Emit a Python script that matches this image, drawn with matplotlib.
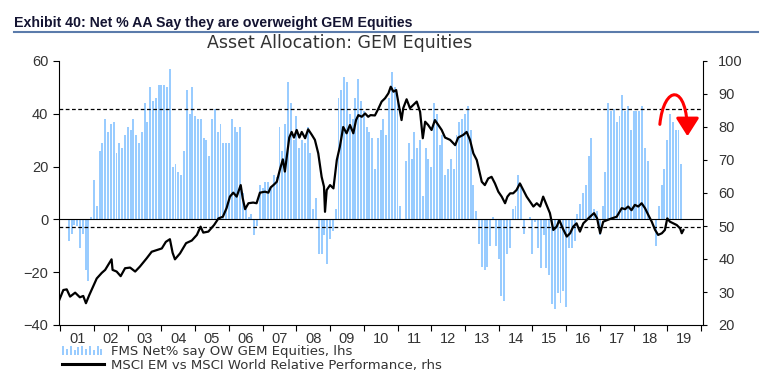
import matplotlib.pyplot as plt
import numpy as np
from matplotlib.legend_handler import HandlerBase
from matplotlib.patches import Rectangle, FancyArrowPatch
from matplotlib.path import Path
from matplotlib.lines import Line2D

plt.rcParams['font.family'] = ['Liberation Sans', 'DejaVu Sans']

nan = np.nan
# FMS net % of asset allocators overweight GEM equities (lhs), monthly from Jan 2001
fms_net = [nan, nan, nan, -8, -5.5, -2, -2.5, -11, -5.5, -19, -23.5, 1,
           15, 5, 26, 29, 38, 33, 36, 37, 25, 29, 27, 32,
           35, 34, 38, 32, 29, 33, 44, 37, 50, 45, 46, 51,
           51, 51, 50, 57, 20, 21, 18, 17, 26, 49, 40, 50,
           39, 38, 38, 31, 30, 24, 38, 42, 33, 36, 29, 29,
           29, 38, 35, 33, 35, 10, 4, 1, 2, -6, -2.5, 13,
           12, 14, 14, 12, 17, 16, 35, 26, 36, 52, 44, 30,
           39, 27, 30, 29, 35, 25, 4, 8, -13, -13, -6, -17,
           -7.5, -4.5, 4, 46, 49, 54, 52, 40, 38, 46, 53, 45,
           41, 35, 33, 31, 19, 31, 34, 38, 32, 46, 56, 50,
           46, 5, nan, 22, 29, 23, 33, 27, 30, 9, 27, 23,
           20, 44, 40, 28, 32, 17, 19, 23, 19, 32, 37, 38,
           40, 43, 34, 13, 3, -9.5, -18, -19, -18, -10, 1, -10,
           -15, -29, -31, -13, -11, 4, 5, 17, 13.5, -5.5, nan, 1,
           -13, -1, -11, -18.5, -6, -18.5, -21, -32, -34, -28, -31.5, -27,
           -33, -11, -11, -8, 2, 6, 10, 13, 24, 31, 4, 3,
           -6, 5, 18, 44, 41, 42, 37, 39, 47, 41, 43, 34,
           41, 41, 41, 43, 27, 22, nan, nan, -10, 5, 13, 19,
           30, 40, 37, 34, 34, 21]
start_year = 2001

# MSCI EM vs MSCI World relative performance (rhs)
rel_years = [2000.97, 2001.09, 2001.19, 2001.29, 2001.44, 2001.58, 2001.68, 2001.76, 2001.86, 2001.96,
             2002.08, 2002.23, 2002.33, 2002.52, 2002.55, 2002.67, 2002.79, 2002.92,
             2003.07, 2003.22, 2003.36, 2003.56, 2003.71, 2003.86,
             2004.01, 2004.13, 2004.25, 2004.33, 2004.40, 2004.55, 2004.73, 2004.90,
             2005.05, 2005.16, 2005.24, 2005.39, 2005.56, 2005.69, 2005.82, 2005.93,
             2006.03, 2006.13, 2006.23, 2006.35, 2006.41, 2006.48, 2006.58, 2006.72, 2006.82, 2006.92,
             2007.07, 2007.17, 2007.24, 2007.32, 2007.42, 2007.52, 2007.60, 2007.66, 2007.73, 2007.79, 2007.86, 2007.93,
             2008.01, 2008.09, 2008.16, 2008.26, 2008.35, 2008.46, 2008.55, 2008.65, 2008.75, 2008.82, 2008.85, 2008.90,
             2009.00, 2009.10, 2009.20, 2009.29, 2009.39, 2009.49, 2009.59, 2009.69, 2009.77, 2009.84, 2009.94,
             2010.04, 2010.13, 2010.20, 2010.33, 2010.43, 2010.53, 2010.63, 2010.73, 2010.80, 2010.88, 2010.96,
             2011.02, 2011.12, 2011.17, 2011.27, 2011.37, 2011.47, 2011.57, 2011.67, 2011.75, 2011.82, 2011.91,
             2012.01, 2012.11, 2012.21, 2012.31, 2012.41, 2012.56, 2012.71, 2012.80, 2012.95,
             2013.05, 2013.15, 2013.25, 2013.35, 2013.50, 2013.59, 2013.69, 2013.79, 2013.89, 2013.99,
             2014.09, 2014.19, 2014.26, 2014.34, 2014.43, 2014.53, 2014.63, 2014.73, 2014.83, 2014.93,
             2015.03, 2015.13, 2015.23, 2015.32, 2015.42, 2015.52, 2015.62, 2015.72, 2015.80, 2015.90,
             2016.02, 2016.12, 2016.21, 2016.31, 2016.41, 2016.51, 2016.61, 2016.71, 2016.83, 2016.92,
             2017.01, 2017.10, 2017.22, 2017.35, 2017.50, 2017.65, 2017.75, 2017.84, 2017.94,
             2018.04, 2018.14, 2018.24, 2018.34, 2018.44, 2018.54, 2018.64, 2018.73, 2018.84, 2018.93,
             2019.00, 2019.08, 2019.18, 2019.28, 2019.38, 2019.43, 2019.48]
rel_values = [27.6, 30.6, 30.8, 28.6, 29.8, 28.4, 28.8, 26.6, 29.1, 31.4,
              34.1, 35.8, 36.7, 39.9, 36.7, 36.2, 34.8, 37.2,
              37.4, 36.2, 37.7, 40.2, 42.2, 42.7,
              43.2, 45.2, 46.0, 41.9, 39.9, 41.7, 44.8, 45.6,
              47.3, 49.8, 48.0, 48.3, 50.3, 52.3, 52.8, 55.4,
              58.9, 60.1, 58.9, 62.4, 58.4, 55.1, 56.9, 57.1, 56.9, 60.1,
              60.4, 60.1, 61.7, 62.4, 63.4, 67.4, 70.2, 66.5, 72.0, 76.8, 78.5, 76.8,
              79.1, 76.8, 78.5, 76.6, 79.3, 77.6, 76.1, 72.0, 64.9, 61.9, 54.3, 60.9,
              62.4, 61.4, 70.0, 74.0, 80.0, 78.1, 80.6, 78.1, 82.1, 83.6, 83.1,
              84.1, 83.1, 83.6, 83.5, 85.5, 87.7, 88.7, 90.2, 92.2, 90.7, 91.2,
              87.7, 82.1, 85.7, 88.4, 85.7, 86.7, 87.7, 84.6, 76.6, 81.6, 80.6,
              79.1, 82.1, 80.6, 79.1, 76.8, 76.1, 74.5, 76.8, 77.6,
              78.5, 76.1, 72.0, 70.0, 63.4, 62.4, 64.4, 64.9, 62.9, 60.4,
              58.9, 56.9, 58.9, 59.9, 59.9, 60.9, 62.9, 60.9, 58.9, 57.4,
              55.9, 56.9, 55.9, 58.9, 56.4, 53.9, 48.8, 49.8, 51.8, 49.3,
              46.8, 47.8, 49.8, 50.8, 48.3, 50.8, 51.8, 52.8, 53.9, 52.3,
              47.8, 51.3, 51.8, 52.3, 52.8, 55.4, 55.1, 55.9, 54.8,
              56.4, 55.9, 56.9, 55.4, 53.3, 51.3, 48.8, 47.3, 47.8, 48.8,
              52.3, 51.3, 50.8, 50.3, 49.3, 47.8, 48.8]

upper_band = 42.0
lower_band = -2.7
year_labels = ['%02d' % (y % 100) for y in range(2001, 2020)]

bar_color = '#99ccff'
text_color = '#333333'

months = start_year + np.arange(len(fms_net)) / 12.0

fig = plt.figure(figsize=(7.62, 3.91), dpi=100)
ax = fig.add_axes([59.3 / 762, 1 - 325 / 391, (703 - 59.3) / 762, (325 - 61) / 391])
ax.bar(months, fms_net, width=0.058, color=bar_color, linewidth=0, zorder=2)
ax.axhline(0, color='black', lw=0.8, zorder=3)
ax.axhline(upper_band, color='black', lw=0.9, ls=(0, (3, 2)), zorder=3)
ax.axhline(lower_band, color='black', lw=0.9, ls=(0, (3, 2)), zorder=3)
ax.set_ylim(-40, 60)
ax.set_yticks(range(-40, 61, 20))
ax.set_xlim(2000.97, 2020.06)
ax.set_xticks(range(2001, 2021))
ax.set_xticklabels([])
ax.set_xticks(np.arange(2001.5, 2020, 1.0), minor=True)
ax.set_xticklabels(year_labels, minor=True)
ax.tick_params(axis='x', which='major', length=4, direction='out', width=0.8)
ax.tick_params(axis='x', which='minor', length=0, pad=5, labelsize=10.5, labelcolor=text_color)
ax.tick_params(axis='y', length=4, width=0.8, pad=4, labelsize=10.5, labelcolor=text_color)
for s in ['top', 'right']:
    ax.spines[s].set_visible(False)

ax2 = ax.twinx()
ax2.plot(rel_years, rel_values, color='black', lw=1.6, zorder=4)
ax2.set_ylim(20, 100)
ax2.set_yticks(range(20, 101, 10))
ax2.tick_params(axis='y', length=3, width=0.8, pad=8, labelsize=10.5, labelcolor=text_color)
for s in ['top', 'left', 'bottom']:
    ax2.spines[s].set_visible(False)

# red arrow showing the recent turn
arc = Path([(2018.78, 36), (2018.9, 51), (2019.6, 52), (2019.6, 31.5)],
           [Path.MOVETO, Path.CURVE4, Path.CURVE4, Path.CURVE4])
arrow = FancyArrowPatch(path=arc, arrowstyle='-|>,head_length=0.55,head_width=0.35',
                        mutation_scale=20, color='red', lw=2.2, zorder=6)
ax.add_patch(arrow)

# titles
fig.text(14 / 762, 1 - 27 / 391, 'Exhibit 40: Net % AA Say they are overweight GEM Equities',
         fontweight='bold', fontsize=10.2, color='#141432', va='baseline')
fig.add_artist(Line2D([14 / 762, 758 / 762], [1 - 31.5 / 391, 1 - 31.5 / 391], color='#5b7bab', lw=1.5))
fig.text(340 / 762, 1 - 43 / 391, 'Asset Allocation: GEM Equities', ha='center', va='center',
         family=['DejaVu Sans'], fontsize=12.5, color=text_color)


class BarsHandler(HandlerBase):
    def create_artists(self, legend, orig_handle, xdescent, ydescent, width, height, fontsize, trans):
        heights = [1.0, 0.6, 1.0, 0.55, 0.9, 1.0, 0.6, 1.0, 0.55, 1.0, 0.7]
        step = width / len(heights)
        arts = []
        for i, h in enumerate(heights):
            arts.append(Rectangle((-xdescent + i * step, -ydescent), step * 0.55, height * h,
                                  facecolor=bar_color, edgecolor='none', transform=trans))
        return arts


bar_handle = Rectangle((0, 0), 1, 1, facecolor=bar_color)
line_handle = Line2D([], [], color='black', lw=2.2)
fig.legend([bar_handle, line_handle],
           ['FMS Net% say OW GEM Equities, lhs', 'MSCI EM vs MSCI World Relative Performance, rhs'],
           loc='upper left', bbox_to_anchor=(62 / 762, 1 - 345 / 391), frameon=False,
           prop={'family': ['DejaVu Sans'], 'size': 9.5},
           handlelength=3.2, handleheight=0.7, handletextpad=0.5, labelspacing=0.05,
           borderpad=0, borderaxespad=0, labelcolor=text_color,
           handler_map={Rectangle: BarsHandler()})

fig.savefig('out.png', dpi=100)
